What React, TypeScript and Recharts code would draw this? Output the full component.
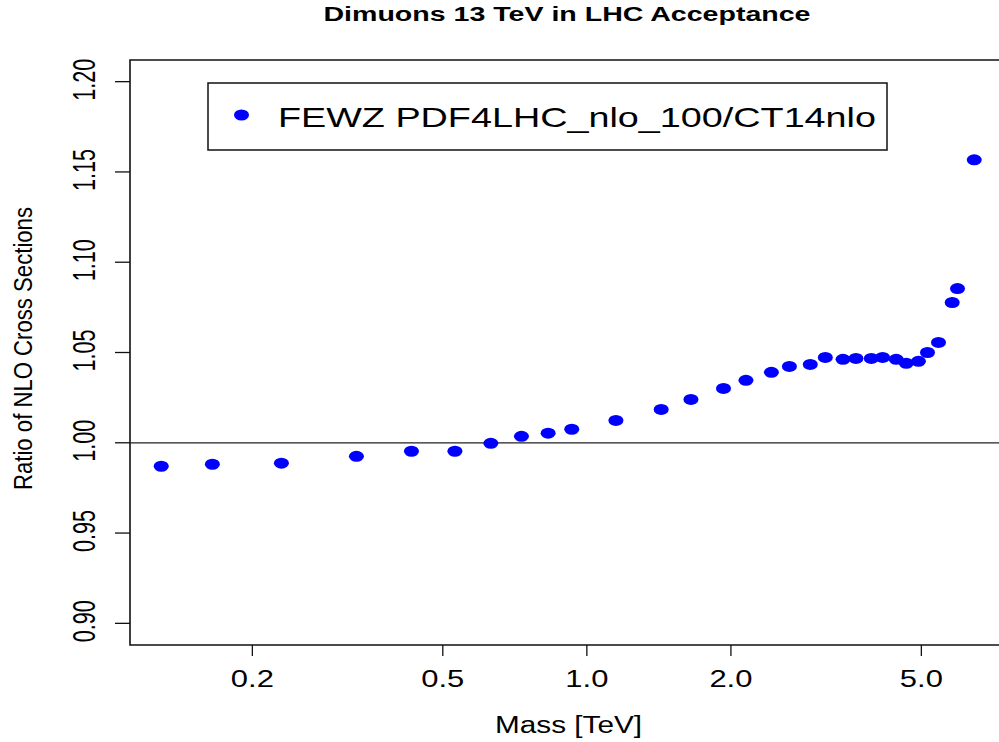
import React from 'react';
import {
  ScatterChart,
  Scatter,
  XAxis,
  YAxis,
  ReferenceLine,
  ReferenceArea,
} from 'recharts';

// Mass points [TeV] and the PDF4LHC/CT14 ratio
const massTeV = [
  0.129, 0.165, 0.23, 0.33, 0.43, 0.53, 0.63, 0.73, 0.83, 0.93, 1.15, 1.43, 1.65, 1.93, 2.15, 2.43,
  2.65, 2.93, 3.15, 3.43, 3.65, 3.93, 4.15, 4.43, 4.65, 4.93, 5.15, 5.43, 5.8, 5.95, 6.45,
];
const ratio = [
  0.987, 0.9881, 0.9887, 0.9925, 0.9953, 0.9953, 0.9997, 1.0036, 1.0053, 1.0075, 1.0124, 1.0185,
  1.024, 1.0301, 1.0346, 1.039, 1.0423, 1.0434, 1.0473, 1.0462, 1.0467, 1.0467, 1.0473, 1.0462,
  1.044, 1.0451, 1.05, 1.0556, 1.0777, 1.0854, 1.1567,
];
const xTicks = [0.2, 0.5, 1, 2, 5];
const yTicks = [0.9, 0.95, 1.0, 1.05, 1.1, 1.15, 1.2];
const xDomain: [number, number] = [0.111, 7.55];
const yDomain: [number, number] = [0.888, 1.212];

const seriesName = 'FEWZ PDF4LHC_nlo_100/CT14nlo';
const FONT = '"Liberation Sans", Arial, Helvetica, sans-serif';
const BLUE = '#0000ff';

const data = massTeV.map((m, i) => ({ mass: m, ratio: ratio[i] }));

const XTick = ({ x, y, payload }: any) => (
  <text
    x={x}
    y={y + 31}
    textAnchor="middle"
    fontFamily={FONT}
    fontSize={23.5}
    fill="#000"
    textLength={43}
    lengthAdjust="spacingAndGlyphs"
  >
    {Number(payload.value).toFixed(1)}
  </text>
);

const YTick = ({ x, y, payload }: any) => (
  <text
    transform={`translate(${x - 20},${y - 2}) rotate(-90)`}
    textAnchor="middle"
    fontFamily={FONT}
    fontSize={31}
    fill="#000"
    textLength={42}
    lengthAdjust="spacingAndGlyphs"
  >
    {Number(payload.value).toFixed(2)}
  </text>
);

const XLabel = ({ viewBox }: any) => (
  <text
    x={viewBox.x + viewBox.width / 2}
    y={733}
    textAnchor="middle"
    fontFamily={FONT}
    fontSize={23}
    fill="#000"
    textLength={147}
    lengthAdjust="spacingAndGlyphs"
  >
    Mass [TeV]
  </text>
);

const YLabel = ({ viewBox }: any) => (
  <text
    transform={`translate(32,${viewBox.y + viewBox.height / 2 - 4}) rotate(-90)`}
    textAnchor="middle"
    fontFamily={FONT}
    fontSize={25}
    fill="#000"
    textLength={283}
    lengthAdjust="spacingAndGlyphs"
  >
    Ratio of NLO Cross Sections
  </text>
);

const Dot = (props: any) => <ellipse cx={props.cx} cy={props.cy} rx={7.5} ry={5.5} fill={BLUE} />;

// legend box drawn over the plot, like R's legend("top", ...)
const LegendBox = () => (
  <svg width={681} height={69} style={{ position: 'absolute', left: 207, top: 82 }}>
    <rect x={1} y={1} width={679} height={67} fill="#fff" stroke="#111" strokeWidth={1.5} />
    <ellipse cx={34.5} cy={33} rx={7.5} ry={5.5} fill={BLUE} />
    <text
      x={71}
      y={45}
      fontFamily={FONT}
      fontSize={28}
      fill="#000"
      textLength={598}
      lengthAdjust="spacingAndGlyphs"
    >
      {seriesName}
    </text>
  </svg>
);

export default function App() {
  return (
    <div
      style={{
        position: 'absolute',
        left: 0,
        top: 0,
        width: 999,
        height: 742,
        overflow: 'hidden',
        background: '#fff',
      }}
    >
      <svg width={999} height={40} style={{ position: 'absolute', left: 0, top: 0 }}>
        <text
          x={567}
          y={21}
          textAnchor="middle"
          fontFamily={FONT}
          fontWeight="bold"
          fontSize={20}
          fill="#000"
          textLength={487}
          lengthAdjust="spacingAndGlyphs"
        >
          Dimuons 13 TeV in LHC Acceptance
        </text>
      </svg>
      <ScatterChart width={1010} height={742} margin={{ top: 60, right: 3, bottom: 0, left: 0 }}>
        <XAxis
          type="number"
          dataKey="mass"
          scale="log"
          domain={xDomain}
          ticks={xTicks}
          interval={0}
          allowDataOverflow
          height={97}
          axisLine={false}
          tickLine={{ stroke: '#111', strokeWidth: 1.3 }}
          tickSize={11}
          tickMargin={0}
          tick={<XTick />}
          label={<XLabel />}
        />
        <YAxis
          type="number"
          dataKey="ratio"
          domain={yDomain}
          ticks={yTicks}
          interval={0}
          allowDataOverflow
          width={130}
          axisLine={false}
          tickLine={{ stroke: '#111', strokeWidth: 1.3 }}
          tickSize={15}
          tickMargin={0}
          tick={<YTick />}
          label={<YLabel />}
        />
        <ReferenceArea
          x1={xDomain[0]}
          x2={xDomain[1]}
          y1={yDomain[0]}
          y2={yDomain[1]}
          fill="none"
          fillOpacity={0}
          stroke="#111"
          strokeWidth={1.6}
          strokeOpacity={1}
          ifOverflow="visible"
        />
        <ReferenceLine y={1} stroke="#222" strokeWidth={1.3} />
        <Scatter
          name={seriesName}
          data={data}
          fill={BLUE}
          shape={<Dot />}
          isAnimationActive={false}
        />
      </ScatterChart>
      <LegendBox />
    </div>
  );
}
